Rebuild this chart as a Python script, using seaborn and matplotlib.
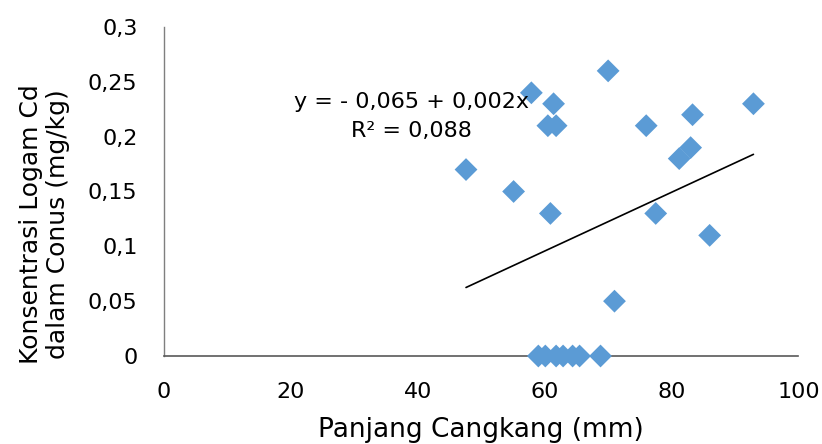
import numpy as np
import pandas as pd
import matplotlib
matplotlib.use("Agg")
import matplotlib.pyplot as plt
import seaborn as sns
from matplotlib.ticker import MultipleLocator, FuncFormatter

# shell length (mm) and Cd concentration (mg/kg)
panjang = [70.0, 57.9, 61.4, 60.5, 61.8, 76.0, 83.3, 92.9, 83.0, 81.2, 47.6, 55.1,
           60.9, 77.5, 86.0, 71.0, 59.0, 60.1, 61.8, 62.9, 64.4, 65.5, 68.8]
kadar_cd = [0.26, 0.24, 0.23, 0.21, 0.21, 0.21, 0.22, 0.23, 0.19, 0.18, 0.17, 0.15,
            0.13, 0.13, 0.11, 0.05, 0, 0, 0, 0, 0, 0, 0]

# linear trendline as drawn in the chart
trend_intercept = -0.0651
trend_slope = 0.00268
trend_label = "y = - 0,065 + 0,002x\nR² = 0,088"

df = pd.DataFrame({"panjang": panjang, "cd": kadar_cd})

sns.set_style("white")
plt.rcParams["font.family"] = ["DejaVu Sans"]
plt.rcParams["text.color"] = "black"
plt.rcParams["axes.labelcolor"] = "black"

fig = plt.figure(figsize=(8.22, 4.44), dpi=100)
ax = fig.add_axes([0.1995, 0.1982, 0.7719, 0.741])

trend_x = np.array([df["panjang"].min(), df["panjang"].max()])
trend_y = trend_intercept + trend_slope * trend_x
ax.plot(trend_x, trend_y, color="black", lw=1.2, zorder=2)

sns.scatterplot(data=df, x="panjang", y="cd", marker="D", s=135, color="#5B9BD5",
                edgecolor="none", linewidth=0, ax=ax, zorder=3, clip_on=False)

ax.set_xlim(0, 100)
ax.set_ylim(0, 0.3)
ax.xaxis.set_major_locator(MultipleLocator(20))
ax.yaxis.set_major_locator(MultipleLocator(0.05))
ax.yaxis.set_major_formatter(FuncFormatter(lambda v, p: f"{round(v, 2):g}".replace(".", ",")))
ax.tick_params(axis="both", length=0, pad=19, labelsize=16, colors="black")

for side in ["top", "right"]:
    ax.spines[side].set_visible(False)
ax.spines["left"].set_color("#7f7f7f")
ax.spines["bottom"].set_color("#595959")
ax.spines["left"].set_linewidth(1.0)
ax.spines["bottom"].set_linewidth(1.2)

ax.set_xlabel("Panjang Cangkang (mm)", fontsize=19, color="black")
ax.xaxis.label.set_va("baseline")
ax.xaxis.set_label_coords(0.5, -0.245)

ax.set_ylabel("Konsentrasi Logam Cd\ndalam Conus (mg/kg)", fontsize=18, linespacing=1.15,
              color="black")
ax.yaxis.set_label_coords(-0.148, 0.401)

ax.text(39.0, 0.2186, trend_label, ha="center", va="center", fontsize=16,
        linespacing=1.55, color="black", zorder=4)

fig.savefig("out.png", dpi=100)
